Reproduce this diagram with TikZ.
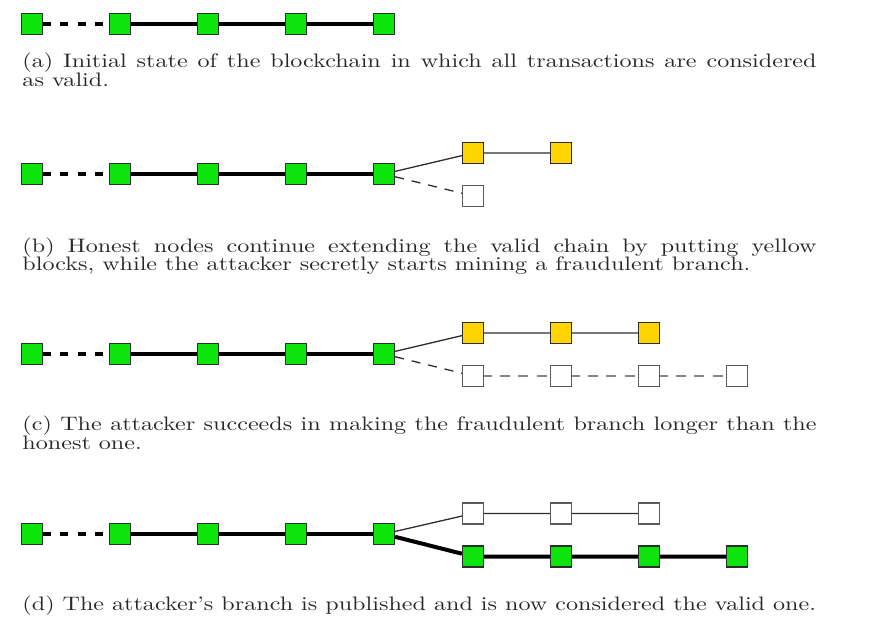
\documentclass[tikz,border=0pt]{standalone}
\definecolor{blkgreen}{RGB}{12,228,12}
\definecolor{blkyellow}{RGB}{255,212,0}
\definecolor{edgedark}{RGB}{45,45,45}
\definecolor{edgegray}{RGB}{90,90,90}
\definecolor{dashgray}{RGB}{135,135,135}
\definecolor{inkgray}{RGB}{40,40,40}
\tikzset{
  blk/.style={draw=edgedark, line width=1.2pt, minimum size=21pt, inner sep=0pt},
  gblk/.style={blk, fill=blkgreen},
  yblk/.style={blk, fill=blkyellow},
  wblk/.style={blk, draw=edgegray, fill=white},
  thickchain/.style={line width=4pt, black},
  thinchain/.style={line width=1.3pt, edgedark},
  dotchain/.style={line width=4pt, black, dash pattern=on 8pt off 9.3pt},
  secretlink/.style={line width=1.3pt, edgedark, dash pattern=on 9pt off 8pt},
  secretchain/.style={line width=2pt, dashgray, dash pattern=on 10pt off 8.3pt, dash phase=2.3pt},
  captext/.style={anchor=base west, inner sep=0pt, xscale=2.41, yscale=1.95, text=inkgray},
}
\begin{document}
\begin{tikzpicture}[x=1pt,y=-1pt]
\useasboundingbox (0,0) rectangle (889,634);
% ---------- (a)
\node[gblk] (a1) at (32,24) {};
\node[gblk] (a2) at (120,24) {};
\node[gblk] (a3) at (208,24) {};
\node[gblk] (a4) at (296,24) {};
\node[gblk] (a5) at (384,24) {};
\draw[dotchain] (a1.east) -- (a2.west);
\draw[thickchain] (a2) -- (a3) -- (a4) -- (a5);
\node[captext] (capa1) at (22,68) {\hbox to 329.5pt{(a) Initial state of the blockchain in which all transactions are considered}};
\node[captext] (capa2) at (22,87) {as valid.};
% ---------- (b)
\node[gblk] (b1) at (32,174) {};
\node[gblk] (b2) at (120,174) {};
\node[gblk] (b3) at (208,174) {};
\node[gblk] (b4) at (296,174) {};
\node[gblk] (b5) at (384,174) {};
\node[yblk] (by1) at (473,153) {};
\node[yblk] (by2) at (561,153) {};
\node[wblk] (bw1) at (473,196) {};
\draw[dotchain] (b1.east) -- (b2.west);
\draw[thickchain] (b2) -- (b3) -- (b4) -- (b5);
\draw[thinchain] (b5) -- (by1) -- (by2);
\draw[secretlink] (b5) -- (bw1);
\node[captext] (capb1) at (22,252) {\hbox to 329.5pt{(b) Honest nodes continue extending the valid chain by putting yellow}};
\node[captext] (capb2) at (22,270) {blocks, while the attacker secretly starts mining a fraudulent branch.};
% ---------- (c)
\node[gblk] (c1) at (32,354) {};
\node[gblk] (c2) at (120,354) {};
\node[gblk] (c3) at (208,354) {};
\node[gblk] (c4) at (296,354) {};
\node[gblk] (c5) at (384,354) {};
\node[yblk] (cy1) at (473,333) {};
\node[yblk] (cy2) at (561,333) {};
\node[yblk] (cy3) at (649,333) {};
\node[wblk] (cw1) at (473,376) {};
\node[wblk] (cw2) at (561,376) {};
\node[wblk] (cw3) at (649,376) {};
\node[wblk] (cw4) at (737,376) {};
\draw[dotchain] (c1.east) -- (c2.west);
\draw[thickchain] (c2) -- (c3) -- (c4) -- (c5);
\draw[thinchain] (c5) -- (cy1) -- (cy2) -- (cy3);
\draw[secretlink] (c5) -- (cw1);
\draw[secretchain] (cw1.east) -- (cw2.west);
\draw[secretchain] (cw2.east) -- (cw3.west);
\draw[secretchain] (cw3.east) -- (cw4.west);
\node[captext] (capc1) at (22,430) {\hbox to 329.5pt{(c) The attacker succeeds in making the fraudulent branch longer than the}};
\node[captext] (capc2) at (22,449) {honest one.};
% ---------- (d)
\node[gblk] (d1) at (32,534) {};
\node[gblk] (d2) at (120,534) {};
\node[gblk] (d3) at (208,534) {};
\node[gblk] (d4) at (296,534) {};
\node[gblk] (d5) at (384,534) {};
\node[wblk] (dw1) at (473,513.5) {};
\node[wblk] (dw2) at (561,513.5) {};
\node[wblk] (dw3) at (649,513.5) {};
\node[gblk] (dg1) at (473,556.5) {};
\node[gblk] (dg2) at (561,556.5) {};
\node[gblk] (dg3) at (649,556.5) {};
\node[gblk] (dg4) at (737,556.5) {};
\draw[dotchain] (d1.east) -- (d2.west);
\draw[thickchain] (d2) -- (d3) -- (d4) -- (d5);
\draw[thinchain] (d5) -- (dw1) -- (dw2) -- (dw3);
\draw[thickchain] (d5) -- (dg1) -- (dg2) -- (dg3) -- (dg4);
\node[captext] (capd) at (22,610) {(d) The attacker's branch is published and is now considered the valid one.};
\end{tikzpicture}
\end{document}
